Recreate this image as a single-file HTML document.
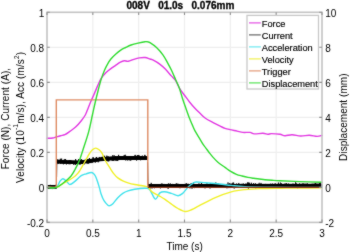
<!DOCTYPE html>
<html><head><meta charset="utf-8"><title>plot</title>
<style>html,body{margin:0;padding:0;background:#fff;width:350px;height:252px;overflow:hidden}svg{display:block}</style>
</head><body>
<svg width="350" height="252" viewBox="0 0 350 252">
<defs><filter id="soft" x="0" y="0" width="350" height="252" filterUnits="userSpaceOnUse" color-interpolation-filters="sRGB"><feConvolveMatrix order="3" kernelMatrix="1 2 1 2 24 2 1 2 1" edgeMode="duplicate" preserveAlpha="true"/></filter></defs>
<g filter="url(#soft)">
<rect width="350" height="252" fill="#fff"/>
<g fill="none" stroke="#eeeeee" stroke-width="1.2">
<path d="M92.83 12.30V222.40 M138.67 12.30V222.40 M184.50 12.30V222.40 M230.33 12.30V222.40 M276.17 12.30V222.40 M47.00 47.32H322.00 M47.00 82.33H322.00 M47.00 117.35H322.00 M47.00 152.37H322.00 M47.00 187.38H322.00"/>
</g>
<g fill="none" stroke-linejoin="round" stroke-linecap="round">
<path d="M47.00 138.30C47.95 138.25 51.15 138.23 52.70 138.00C54.25 137.77 54.98 137.28 56.30 136.90C57.62 136.52 59.17 136.07 60.60 135.70C62.03 135.33 63.35 135.42 64.90 134.70C66.45 133.98 68.12 132.67 69.90 131.40C71.68 130.13 73.70 128.88 75.60 127.10C77.50 125.32 79.68 122.72 81.30 120.70C82.92 118.68 84.28 116.78 85.30 115.00C86.32 113.22 86.52 112.17 87.40 110.00C88.28 107.83 89.50 104.60 90.60 102.00C91.70 99.40 92.85 97.05 94.00 94.40C95.15 91.75 96.28 88.80 97.50 86.10C98.72 83.40 99.87 80.47 101.30 78.20C102.73 75.93 104.50 74.10 106.10 72.50C107.70 70.90 109.32 69.78 110.90 68.60C112.48 67.42 114.02 66.47 115.60 65.40C117.18 64.33 118.97 62.97 120.40 62.20C121.83 61.43 122.88 60.95 124.20 60.80C125.52 60.65 126.68 61.55 128.30 61.30C129.92 61.05 132.05 59.87 133.90 59.30C135.75 58.73 137.55 58.20 139.40 57.90C141.25 57.60 143.23 57.32 145.00 57.50C146.77 57.68 148.62 58.55 150.00 59.00C151.38 59.45 151.68 59.35 153.30 60.20C154.92 61.05 157.70 62.63 159.70 64.10C161.70 65.57 163.37 67.03 165.30 69.00C167.23 70.97 169.57 73.95 171.30 75.90C173.03 77.85 174.30 78.58 175.70 80.70C177.10 82.82 178.20 86.13 179.70 88.60C181.20 91.07 183.03 93.23 184.70 95.50C186.37 97.77 188.03 100.12 189.70 102.20C191.37 104.28 193.03 106.20 194.70 108.00C196.37 109.80 197.92 111.28 199.70 113.00C201.48 114.72 203.08 116.67 205.40 118.30C207.72 119.93 211.05 121.45 213.60 122.80C216.15 124.15 218.80 125.48 220.70 126.40C222.60 127.32 223.45 127.77 225.00 128.30C226.55 128.83 227.98 129.13 230.00 129.60C232.02 130.07 234.95 130.63 237.10 131.10C239.25 131.57 240.75 132.18 242.90 132.40C245.05 132.62 248.10 132.15 250.00 132.40C251.90 132.65 252.15 133.75 254.30 133.90C256.45 134.05 260.63 133.23 262.90 133.30C265.17 133.37 266.48 134.25 267.90 134.30C269.32 134.35 269.38 133.60 271.40 133.60C273.42 133.60 277.73 133.95 280.00 134.30C282.27 134.65 282.98 135.63 285.00 135.70C287.02 135.77 289.48 134.65 292.10 134.70C294.72 134.75 297.83 135.90 300.70 136.00C303.57 136.10 306.57 135.23 309.30 135.30C312.03 135.37 314.98 136.38 317.10 136.40C319.22 136.42 321.18 135.57 322.00 135.40" stroke="#e238e2" stroke-width="1.4"/>
<path d="M47.00 187.00 L56.40 187.00" stroke="#000" stroke-width="4.0" stroke-linecap="butt"/>
<path d="M56.90 161.70 L80.00 162.40 L90.00 160.90 L100.00 159.40 L110.00 158.50 L120.00 158.00 L135.00 157.90 L147.50 158.10" stroke="#000" stroke-width="3.8" stroke-linejoin="round" stroke-linecap="butt"/>
<path d="M148.10 185.70 L200.00 185.50 L322.00 185.40" stroke="#000" stroke-width="3.2" stroke-linecap="butt"/>
<path d="M56.60 176.72 56.80 165.53 57.00 162.45 57.20 161.62 57.40 159.52 57.60 162.96 57.80 162.73 58.00 163.15 58.20 163.90 58.40 162.29 58.60 161.93 58.80 159.81 59.00 162.69 59.20 160.85 59.40 161.10 59.60 159.88 59.80 160.34 60.00 161.00 60.20 163.73 60.40 158.76 60.60 159.63 60.80 162.18 61.00 163.99 61.20 162.70 61.40 158.99 61.60 158.64 61.80 162.38 62.00 160.75 62.20 160.18 62.40 163.33 62.60 163.53 62.80 162.11 63.00 162.25 63.20 162.54 63.40 164.29 63.60 162.83 63.80 162.69 64.00 162.74 64.20 159.57 64.40 163.85 64.60 163.37 64.80 162.73 65.00 158.98 65.20 161.00 65.40 163.22 65.60 159.25 65.80 161.69 66.00 163.51 66.20 160.02 66.40 164.40 66.60 162.82 66.80 161.77 67.00 162.49 67.20 162.99 67.40 162.20 67.60 163.74 67.80 161.04 68.00 161.41 68.20 163.60 68.40 162.09 68.60 160.73 68.80 163.48 69.00 164.26 69.20 161.41 69.40 160.01 69.60 161.88 69.80 161.87 70.00 161.65 70.20 164.21 70.40 160.57 70.60 164.01 70.80 160.22 71.00 160.95 71.20 163.08 71.40 163.83 71.60 163.43 71.80 162.67 72.00 162.37 72.20 162.39 72.40 163.03 72.60 161.91 72.80 162.60 73.00 163.05 73.20 162.20 73.40 163.35 73.60 163.05 73.80 164.81 74.00 162.71 74.20 161.58 74.40 161.67 74.60 162.22 74.80 163.63 75.00 161.74 75.20 162.83 75.40 164.86 75.60 159.07 75.80 160.59 76.00 162.64 76.20 162.88 76.40 162.65 76.60 161.65 76.80 163.29 77.00 162.73 77.20 161.53 77.40 164.92 77.60 162.86 77.80 161.50 78.00 162.19 78.20 162.01 78.40 162.26 78.60 159.16 78.80 161.63 79.00 163.88 79.20 160.62 79.40 162.28 79.60 163.82 79.80 163.68 80.00 164.64 80.20 159.82 80.40 161.81 80.60 161.80 80.80 163.21 81.00 163.89 81.20 159.02 81.40 163.82 81.60 159.99 81.80 163.15 82.00 159.86 82.20 162.33 82.40 163.83 82.60 161.79 82.80 162.27 83.00 163.15 83.20 162.13 83.40 161.76 83.60 164.16 83.80 163.40 84.00 161.36 84.20 164.37 84.40 160.02 84.60 163.08 84.80 161.28 85.00 161.85 85.20 162.68 85.40 161.92 85.60 162.52 85.80 159.24 86.00 159.24 86.20 162.39 86.40 160.00 86.60 159.87 86.80 159.17 87.00 163.25 87.20 162.44 87.40 163.50 87.60 159.85 87.80 161.23 88.00 159.49 88.20 162.32 88.40 163.52 88.60 159.77 88.80 163.42 89.00 162.53 89.20 160.75 89.40 158.03 89.60 163.07 89.80 160.79 90.00 160.00 90.20 161.47 90.40 161.45 90.60 163.06 90.80 159.25 91.00 162.45 91.20 162.95 91.40 162.87 91.60 160.39 91.80 159.51 92.00 162.13 92.20 160.74 92.40 160.73 92.60 162.65 92.80 160.08 93.00 157.25 93.20 159.84 93.40 157.61 93.60 161.59 93.80 160.81 94.00 159.38 94.20 160.26 94.40 161.49 94.60 160.33 94.80 162.17 95.00 160.06 95.20 161.68 95.40 162.33 95.60 162.47 95.80 159.02 96.00 161.32 96.20 157.16 96.40 158.31 96.60 156.97 96.80 161.48 97.00 158.00 97.20 159.80 97.40 159.50 97.60 159.72 97.80 158.84 98.00 160.05 98.20 162.27 98.40 159.71 98.60 160.41 98.80 161.08 99.00 159.25 99.20 157.63 99.40 158.66 99.60 161.07 99.80 156.96 100.00 158.50 100.20 160.89 100.40 160.55 100.60 159.36 100.80 160.54 101.00 159.56 101.20 157.52 101.40 156.93 101.60 158.30 101.80 160.62 102.00 158.37 102.20 157.85 102.40 158.03 102.60 156.87 102.80 158.97 103.00 157.36 103.20 159.66 103.40 155.89 103.60 159.57 103.80 158.10 104.00 156.13 104.20 160.11 104.40 158.59 104.60 155.79 104.80 157.66 105.00 159.39 105.20 158.24 105.40 160.08 105.60 160.02 105.80 159.88 106.00 159.35 106.20 160.84 106.40 159.81 106.60 159.48 106.80 155.66 107.00 160.11 107.20 160.72 107.40 158.29 107.60 158.01 107.80 161.30 108.00 156.04 108.20 159.37 108.40 161.24 108.60 157.23 108.80 159.64 109.00 161.19 109.20 158.39 109.40 159.40 109.60 159.89 109.80 157.16 110.00 158.37 110.20 158.93 110.40 159.72 110.60 158.42 110.80 158.17 111.00 156.93 111.20 157.90 111.40 159.77 111.60 158.57 111.80 157.13 112.00 157.14 112.20 160.99 112.40 160.09 112.60 159.33 112.80 155.16 113.00 159.28 113.20 159.06 113.40 160.86 113.60 158.96 113.80 158.21 114.00 159.08 114.20 155.37 114.40 159.83 114.60 158.76 114.80 157.21 115.00 160.24 115.20 160.84 115.40 156.13 115.60 157.22 115.80 158.65 116.00 158.48 116.20 157.59 116.40 156.72 116.60 160.77 116.80 159.72 117.00 156.36 117.20 156.12 117.40 160.68 117.60 159.60 117.80 160.71 118.00 159.32 118.20 156.78 118.40 158.47 118.60 154.87 118.80 156.94 119.00 157.96 119.20 158.82 119.40 156.94 119.60 157.83 119.80 158.70 120.00 158.57 120.20 158.96 120.40 158.31 120.60 157.51 120.80 159.18 121.00 158.07 121.20 156.75 121.40 157.05 121.60 157.99 121.80 157.82 122.00 158.22 122.20 157.98 122.40 158.25 122.60 157.78 122.80 156.09 123.00 158.61 123.20 159.56 123.40 158.63 123.60 157.69 123.80 158.64 124.00 156.52 124.20 155.13 124.40 158.06 124.60 156.57 124.80 159.08 125.00 156.34 125.20 154.77 125.40 156.40 125.60 160.33 125.80 157.39 126.00 155.91 126.20 156.81 126.40 158.74 126.60 158.70 126.80 158.22 127.00 160.18 127.20 159.01 127.40 157.92 127.60 158.84 127.80 160.43 128.00 159.40 128.20 159.48 128.40 156.32 128.60 157.72 128.80 159.04 129.00 157.50 129.20 159.54 129.40 158.83 129.60 159.30 129.80 157.62 130.00 160.53 130.20 159.79 130.40 157.61 130.60 158.07 130.80 160.53 131.00 157.41 131.20 159.24 131.40 159.39 131.60 157.93 131.80 156.17 132.00 158.20 132.20 158.46 132.40 159.61 132.60 159.09 132.80 157.95 133.00 159.19 133.20 158.72 133.40 158.22 133.60 157.99 133.80 157.54 134.00 158.94 134.20 156.32 134.40 156.96 134.60 157.91 134.80 155.71 135.00 157.25 135.20 154.89 135.40 156.88 135.60 158.76 135.80 158.76 136.00 157.83 136.20 157.57 136.40 155.80 136.60 160.53 136.80 158.70 137.00 159.57 137.20 156.61 137.40 157.66 137.60 155.21 137.80 159.12 138.00 159.35 138.20 155.11 138.40 157.88 138.60 158.90 138.80 155.32 139.00 155.23 139.20 156.37 139.40 157.03 139.60 155.87 139.80 158.02 140.00 158.35 140.20 158.93 140.40 159.04 140.60 160.24 140.80 159.74 141.00 156.03 141.20 157.24 141.40 156.41 141.60 156.39 141.80 157.89 142.00 158.02 142.20 158.75 142.40 155.64 142.60 156.17 142.80 157.99 143.00 157.73 143.20 157.56 143.40 157.94 143.60 156.90 143.80 159.09 144.00 158.58 144.20 157.92 144.40 157.04 144.60 157.79 144.80 154.86 145.00 156.59 145.20 158.12 145.40 155.81 145.60 158.37 145.80 158.29 146.00 156.01 146.20 157.70 146.40 157.61 146.60 158.78 146.80 159.01 147.00 158.04 147.20 156.82 147.40 157.88" stroke="#000" stroke-width="0.8" stroke-linejoin="miter"/>
<path d="M47.00 186.69 47.20 187.61 47.40 186.73 47.60 186.62 47.80 185.88 48.00 186.74 48.20 188.33 48.40 187.51 48.60 188.24 48.80 187.30 49.00 187.47 49.20 187.22 49.40 185.00 49.60 188.03 49.80 187.61 50.00 187.60 50.20 184.97 50.40 184.91 50.60 185.93 50.80 186.44 51.00 187.37 51.20 186.94 51.40 187.63 51.60 186.23 51.80 187.37 52.00 187.47 52.20 186.21 52.40 189.06 52.60 187.67 52.80 188.44 53.00 186.26 53.20 186.11 53.40 186.59 53.60 186.87 53.80 187.76 54.00 187.30 54.20 186.46 54.40 185.85 54.60 186.38 54.80 188.47 55.00 186.03 55.20 187.29 55.40 187.51 55.60 185.21 55.80 187.06 56.00 188.57 56.20 184.58 56.40 186.61 M147.60 162.62 147.80 172.78 148.00 181.45 148.20 184.83 148.40 184.07 148.60 185.25 148.80 184.81 149.00 184.36 149.20 185.56 149.40 185.11 149.60 185.82 149.80 186.32 150.00 185.20 150.20 188.48 150.40 185.31 150.60 187.01 150.80 185.84 151.00 187.03 151.20 182.84 151.40 184.79 151.60 185.98 151.80 186.41 152.00 188.49 152.20 186.07 152.40 187.22 152.60 186.60 152.80 186.82 153.00 186.29 153.20 185.49 153.40 186.29 153.60 184.39 153.80 187.10 154.00 184.46 154.20 185.98 154.40 188.22 154.60 185.41 154.80 185.70 155.00 187.07 155.20 185.70 155.40 184.70 155.60 185.98 155.80 186.37 156.00 186.52 156.20 184.74 156.40 187.77 156.60 187.67 156.80 185.69 157.00 185.99 157.20 185.15 157.40 187.36 157.60 184.82 157.80 186.47 158.00 185.09 158.20 184.83 158.40 186.52 158.60 187.26 158.80 185.65 159.00 184.85 159.20 186.63 159.40 185.60 159.60 186.03 159.80 187.48 160.00 187.01 160.20 185.03 160.40 188.39 160.60 185.66 160.80 186.59 161.00 184.87 161.20 185.60 161.40 183.55 161.60 187.79 161.80 187.29 162.00 184.19 162.20 183.84 162.40 183.70 162.60 187.06 162.80 185.09 163.00 185.57 163.20 185.27 163.40 185.50 163.60 184.33 163.80 185.67 164.00 183.91 164.20 185.55 164.40 186.01 164.60 186.20 164.80 185.36 165.00 184.55 165.20 185.83 165.40 185.05 165.60 187.51 165.80 186.55 166.00 185.49 166.20 185.06 166.40 184.79 166.60 184.50 166.80 185.20 167.00 185.98 167.20 186.25 167.40 186.31 167.60 188.14 167.80 184.78 168.00 185.64 168.20 188.82 168.40 183.38 168.60 185.00 168.80 185.82 169.00 185.80 169.20 186.11 169.40 185.33 169.60 186.06 169.80 185.68 170.00 186.54 170.20 183.34 170.40 184.55 170.60 185.61 170.80 184.37 171.00 184.36 171.20 186.36 171.40 184.83 171.60 186.37 171.80 186.50 172.00 185.98 172.20 186.22 172.40 185.48 172.60 183.91 172.80 185.57 173.00 186.15 173.20 184.97 173.40 185.48 173.60 186.50 173.80 184.55 174.00 186.37 174.20 187.83 174.40 184.93 174.60 185.77 174.80 185.42 175.00 187.44 175.20 185.98 175.40 186.67 175.60 184.77 175.80 185.57 176.00 185.58 176.20 183.46 176.40 187.32 176.60 186.67 176.80 183.49 177.00 186.48 177.20 185.43 177.40 186.13 177.60 186.03 177.80 183.79 178.00 185.33 178.20 187.38 178.40 184.89 178.60 184.36 178.80 183.95 179.00 184.12 179.20 185.98 179.40 187.61 179.60 186.09 179.80 185.87 180.00 188.26 180.20 184.95 180.40 184.77 180.60 186.21 180.80 186.23 181.00 184.36 181.20 184.17 181.40 185.92 181.60 185.87 181.80 184.00 182.00 185.33 182.20 184.92 182.40 186.12 182.60 185.43 182.80 185.46 183.00 185.14 183.20 186.83 183.40 187.23 183.60 185.12 183.80 186.58 184.00 184.65 184.20 185.65 184.40 186.46 184.60 187.38 184.80 185.10 185.00 185.47 185.20 185.79 185.40 183.76 185.60 185.57 185.80 184.74 186.00 186.00 186.20 184.20 186.40 183.18 186.60 185.60 186.80 185.86 187.00 184.89 187.20 186.62 187.40 185.22 187.60 184.82 187.80 186.12 188.00 183.66 188.20 184.73 188.40 185.52 188.60 186.56 188.80 185.35 189.00 185.91 189.20 184.76 189.40 185.90 189.60 187.54 189.80 184.72 190.00 188.38 190.20 184.77 190.40 185.56 190.60 185.74 190.80 186.76 191.00 184.05 191.20 183.01 191.40 186.26 191.60 186.49 191.80 186.28 192.00 188.69 192.20 185.78 192.40 185.83 192.60 186.64 192.80 185.97 193.00 187.52 193.20 184.04 193.40 185.07 193.60 182.32 193.80 186.50 194.00 185.08 194.20 186.63 194.40 188.11 194.60 185.51 194.80 185.21 195.00 184.92 195.20 184.51 195.40 184.76 195.60 186.28 195.80 185.56 196.00 185.59 196.20 185.31 196.40 186.61 196.60 186.11 196.80 185.34 197.00 186.31 197.20 185.33 197.40 184.13 197.60 187.26 197.80 186.07 198.00 184.36 198.20 186.80 198.40 185.92 198.60 183.63 198.80 187.44 199.00 185.90 199.20 186.57 199.40 185.74 199.60 185.32 199.80 183.64 200.00 186.67 200.20 185.54 200.40 185.16 200.60 185.92 200.80 185.59 201.00 186.31 201.20 185.05 201.40 185.46 201.60 182.93 201.80 184.99 202.00 186.31 202.20 187.10 202.40 185.06 202.60 185.35 202.80 187.40 203.00 185.11 203.20 186.38 203.40 187.51 203.60 185.54 203.80 186.97 204.00 184.64 204.20 185.75 204.40 185.40 204.60 185.63 204.80 186.85 205.00 188.36 205.20 184.70 205.40 184.81 205.60 186.09 205.80 184.23 206.00 186.09 206.20 186.18 206.40 185.16 206.60 186.13 206.80 183.64 207.00 186.41 207.20 183.64 207.40 184.66 207.60 184.83 207.80 185.01 208.00 186.52 208.20 185.59 208.40 185.02 208.60 186.15 208.80 187.39 209.00 185.50 209.20 185.93 209.40 186.98 209.60 185.81 209.80 183.95 210.00 188.48 210.20 188.14 210.40 183.11 210.60 185.44 210.80 185.99 211.00 186.65 211.20 186.29 211.40 185.16 211.60 184.23 211.80 185.61 212.00 186.73 212.20 184.18 212.40 184.26 212.60 185.46 212.80 183.16 213.00 185.18 213.20 184.97 213.40 186.03 213.60 184.65 213.80 184.43 214.00 185.02 214.20 185.43 214.40 184.69 214.60 185.50 214.80 186.39 215.00 186.91 215.20 187.53 215.40 184.55 215.60 184.98 215.80 182.51 216.00 187.77 216.20 184.62 216.40 185.45 216.60 186.11 216.80 183.86 217.00 186.04 217.20 185.45 217.40 183.29 217.60 185.84 217.80 186.92 218.00 183.24 218.20 186.45 218.40 185.74 218.60 186.05 218.80 186.01 219.00 187.05 219.20 185.22 219.40 186.53 219.60 184.99 219.80 186.36 220.00 184.51 220.20 185.35 220.40 187.56 220.60 186.02 220.80 185.29 221.00 184.11 221.20 184.53 221.40 185.71 221.60 186.61 221.80 185.99 222.00 186.11 222.20 185.43 222.40 187.10 222.60 185.01 222.80 184.82 223.00 186.55 223.20 185.56 223.40 185.15 223.60 184.79 223.80 185.17 224.00 186.23 224.20 185.90 224.40 184.03 224.60 185.99 224.80 185.69 225.00 184.28 225.20 186.41 225.40 185.14 225.60 185.08 225.80 186.43 226.00 187.06 226.20 184.65 226.40 186.00 226.60 184.43 226.80 188.26 227.00 184.89 227.20 186.91 227.40 184.70 227.60 186.45 227.80 188.14 228.00 182.43 228.20 184.96 228.40 186.08 228.60 185.37 228.80 184.67 229.00 188.06 229.20 185.57 229.40 183.50 229.60 186.50 229.80 183.41 230.00 186.86 230.20 184.78 230.40 185.65 230.60 186.99 230.80 185.62 231.00 183.81 231.20 183.44 231.40 186.89 231.60 186.36 231.80 184.50 232.00 186.51 232.20 186.07 232.40 186.25 232.60 182.76 232.80 185.11 233.00 186.55 233.20 186.35 233.40 186.53 233.60 182.52 233.80 185.68 234.00 186.06 234.20 188.53 234.40 184.33 234.60 185.08 234.80 185.51 235.00 186.53 235.20 184.94 235.40 186.85 235.60 184.53 235.80 185.79 236.00 184.84 236.20 185.66 236.40 184.64 236.60 183.55 236.80 186.78 237.00 185.83 237.20 184.80 237.40 185.71 237.60 186.66 237.80 184.30 238.00 185.34 238.20 186.12 238.40 186.10 238.60 185.07 238.80 182.94 239.00 186.96 239.20 185.86 239.40 185.48 239.60 185.13 239.80 185.78 240.00 184.96 240.20 184.24 240.40 184.58 240.60 184.75 240.80 184.73 241.00 184.08 241.20 186.23 241.40 183.89 241.60 186.26 241.80 184.25 242.00 185.89 242.20 187.11 242.40 185.71 242.60 184.59 242.80 185.52 243.00 185.64 243.20 183.38 243.40 184.74 243.60 185.66 243.80 184.90 244.00 185.56 244.20 186.34 244.40 186.38 244.60 186.55 244.80 186.17 245.00 185.12 245.20 185.44 245.40 185.14 245.60 185.09 245.80 185.25 246.00 183.39 246.20 185.06 246.40 185.43 246.60 184.29 246.80 185.43 247.00 186.08 247.20 185.26 247.40 187.95 247.60 182.33 247.80 185.21 248.00 183.27 248.20 186.64 248.40 188.65 248.60 182.46 248.80 185.61 249.00 186.08 249.20 185.10 249.40 186.12 249.60 182.77 249.80 186.48 250.00 185.91 250.20 185.49 250.40 184.75 250.60 186.22 250.80 184.88 251.00 185.73 251.20 184.85 251.40 182.76 251.60 185.42 251.80 185.70 252.00 186.36 252.20 184.41 252.40 185.42 252.60 186.20 252.80 185.63 253.00 186.95 253.20 187.85 253.40 184.37 253.60 183.15 253.80 186.48 254.00 187.29 254.20 186.56 254.40 186.43 254.60 184.71 254.80 184.60 255.00 186.52 255.20 184.36 255.40 183.28 255.60 184.26 255.80 188.44 256.00 187.76 256.20 184.63 256.40 184.58 256.60 185.73 256.80 184.55 257.00 187.03 257.20 185.36 257.40 184.15 257.60 187.02 257.80 184.75 258.00 185.72 258.20 185.44 258.40 185.07 258.60 185.84 258.80 184.62 259.00 183.24 259.20 182.80 259.40 183.93 259.60 184.54 259.80 185.42 260.00 185.52 260.20 186.12 260.40 185.59 260.60 184.50 260.80 184.60 261.00 182.91 261.20 185.25 261.40 186.03 261.60 186.09 261.80 185.30 262.00 185.24 262.20 186.57 262.40 185.47 262.60 186.33 262.80 186.15 263.00 185.70 263.20 187.02 263.40 184.76 263.60 185.02 263.80 184.48 264.00 184.49 264.20 187.31 264.40 187.56 264.60 185.47 264.80 186.13 265.00 186.86 265.20 186.42 265.40 186.89 265.60 183.93 265.80 184.68 266.00 185.99 266.20 187.17 266.40 185.57 266.60 184.42 266.80 185.02 267.00 184.65 267.20 184.41 267.40 187.25 267.60 184.69 267.80 185.47 268.00 188.04 268.20 186.87 268.40 185.85 268.60 184.71 268.80 185.94 269.00 187.39 269.20 186.19 269.40 186.96 269.60 185.56 269.80 186.06 270.00 185.20 270.20 185.95 270.40 187.00 270.60 183.72 270.80 185.37 271.00 185.73 271.20 184.76 271.40 185.07 271.60 186.39 271.80 187.84 272.00 186.20 272.20 185.83 272.40 183.58 272.60 187.75 272.80 185.53 273.00 185.40 273.20 184.10 273.40 185.37 273.60 184.12 273.80 185.52 274.00 186.00 274.20 185.48 274.40 185.77 274.60 184.42 274.80 187.15 275.00 184.65 275.20 183.26 275.40 185.21 275.60 184.52 275.80 184.23 276.00 185.01 276.20 185.79 276.40 184.02 276.60 185.27 276.80 187.15 277.00 186.26 277.20 185.25 277.40 185.59 277.60 185.29 277.80 185.38 278.00 186.31 278.20 185.32 278.40 182.55 278.60 185.41 278.80 184.37 279.00 186.22 279.20 184.70 279.40 185.61 279.60 188.05 279.80 184.18 280.00 184.08 280.20 183.74 280.40 182.56 280.60 183.18 280.80 185.87 281.00 184.67 281.20 183.19 281.40 183.65 281.60 186.17 281.80 184.50 282.00 184.99 282.20 185.83 282.40 187.06 282.60 187.76 282.80 186.67 283.00 185.60 283.20 185.65 283.40 187.59 283.60 187.15 283.80 185.06 284.00 185.98 284.20 185.78 284.40 185.49 284.60 184.83 284.80 183.84 285.00 184.79 285.20 183.58 285.40 186.90 285.60 186.07 285.80 183.98 286.00 187.10 286.20 186.50 286.40 183.14 286.60 187.64 286.80 186.40 287.00 187.91 287.20 183.95 287.40 186.07 287.60 185.94 287.80 185.67 288.00 185.63 288.20 186.69 288.40 183.63 288.60 183.94 288.80 183.75 289.00 184.76 289.20 184.70 289.40 185.87 289.60 185.75 289.80 185.46 290.00 184.61 290.20 184.90 290.40 186.57 290.60 186.34 290.80 185.55 291.00 185.04 291.20 187.29 291.40 184.71 291.60 186.20 291.80 186.81 292.00 185.11 292.20 186.41 292.40 184.09 292.60 186.64 292.80 185.66 293.00 183.52 293.20 186.23 293.40 184.35 293.60 186.96 293.80 184.61 294.00 185.23 294.20 185.76 294.40 185.02 294.60 185.73 294.80 184.76 295.00 186.23 295.20 185.43 295.40 185.68 295.60 182.22 295.80 186.82 296.00 185.46 296.20 183.28 296.40 185.54 296.60 185.98 296.80 186.71 297.00 184.12 297.20 187.28 297.40 185.23 297.60 188.29 297.80 185.24 298.00 186.24 298.20 184.98 298.40 184.08 298.60 186.74 298.80 186.51 299.00 187.27 299.20 186.45 299.40 184.73 299.60 183.42 299.80 184.64 300.00 184.61 300.20 184.44 300.40 186.12 300.60 185.81 300.80 185.09 301.00 185.62 301.20 185.24 301.40 185.67 301.60 186.32 301.80 186.57 302.00 184.59 302.20 183.61 302.40 187.13 302.60 185.55 302.80 186.74 303.00 183.44 303.20 185.02 303.40 185.45 303.60 183.69 303.80 184.80 304.00 186.28 304.20 186.71 304.40 187.33 304.60 184.38 304.80 183.73 305.00 186.04 305.20 186.54 305.40 185.65 305.60 183.85 305.80 186.35 306.00 186.36 306.20 186.08 306.40 184.83 306.60 185.78 306.80 186.36 307.00 184.74 307.20 183.20 307.40 185.81 307.60 185.99 307.80 185.43 308.00 186.48 308.20 184.71 308.40 185.31 308.60 185.04 308.80 186.10 309.00 187.33 309.20 185.11 309.40 187.88 309.60 187.24 309.80 186.36 310.00 186.11 310.20 187.53 310.40 185.19 310.60 185.27 310.80 184.13 311.00 185.98 311.20 187.02 311.40 186.05 311.60 185.92 311.80 185.17 312.00 185.61 312.20 183.70 312.40 186.67 312.60 184.92 312.80 184.08 313.00 184.51 313.20 184.42 313.40 186.43 313.60 186.68 313.80 183.78 314.00 186.52 314.20 186.47 314.40 184.71 314.60 183.62 314.80 184.51 315.00 184.65 315.20 185.82 315.40 184.98 315.60 182.97 315.80 185.69 316.00 183.56 316.20 186.49 316.40 183.96 316.60 184.57 316.80 184.38 317.00 184.75 317.20 186.96 317.40 186.43 317.60 186.13 317.80 185.79 318.00 183.55 318.20 184.78 318.40 184.74 318.60 184.23 318.80 186.01 319.00 184.51 319.20 184.55 319.40 184.15 319.60 182.93 319.80 186.12 320.00 187.00 320.20 185.61 320.40 184.23 320.60 182.20 320.80 185.61 321.00 186.86 321.20 185.76 321.40 186.51 321.60 187.17 321.80 186.75 322.00 184.87" stroke="#000" stroke-width="0.7" stroke-linejoin="miter"/>
<path d="M47.00 187.40C48.53 187.40 54.07 188.38 56.20 187.40C58.33 186.42 58.68 182.93 59.80 181.50C60.92 180.07 61.78 178.85 62.90 178.80C64.02 178.75 65.35 180.25 66.50 181.20C67.65 182.15 68.40 184.47 69.80 184.50C71.20 184.53 73.00 182.87 74.90 181.40C76.80 179.93 79.32 176.97 81.20 175.70C83.08 174.43 84.53 174.33 86.20 173.80C87.87 173.27 89.95 172.50 91.20 172.50C92.45 172.50 92.97 173.13 93.70 173.80C94.43 174.47 94.97 175.23 95.60 176.50C96.23 177.77 96.87 179.55 97.50 181.40C98.13 183.25 98.82 185.55 99.40 187.60C99.98 189.65 100.23 191.52 101.00 193.70C101.77 195.88 102.85 198.78 104.00 200.70C105.15 202.62 106.92 204.38 107.90 205.20C108.88 206.02 109.07 205.85 109.90 205.60C110.73 205.35 111.58 205.02 112.90 203.70C114.22 202.38 116.15 199.43 117.80 197.70C119.45 195.97 121.10 194.45 122.80 193.30C124.50 192.15 126.02 191.48 128.00 190.80C129.98 190.12 131.87 189.62 134.70 189.20C137.53 188.78 142.52 188.27 145.00 188.30C147.48 188.33 147.88 187.60 149.60 189.40C151.32 191.20 153.58 198.52 155.30 199.10C157.02 199.68 158.38 194.13 159.90 192.90C161.42 191.67 162.50 191.62 164.40 191.70C166.30 191.78 169.02 192.73 171.30 193.40C173.58 194.07 176.20 195.70 178.10 195.70C180.00 195.70 181.07 194.80 182.70 193.40C184.33 192.00 186.37 188.87 187.90 187.30C189.43 185.73 190.53 184.88 191.90 184.00C193.27 183.12 193.82 182.20 196.10 182.00C198.38 181.80 201.73 182.47 205.60 182.80C209.47 183.13 215.02 183.57 219.30 184.00C223.58 184.43 227.02 184.97 231.30 185.40C235.58 185.83 238.55 186.30 245.00 186.60C251.45 186.90 257.17 187.07 270.00 187.20C282.83 187.33 313.33 187.37 322.00 187.40" stroke="#40e2ec" stroke-width="1.4"/>
<path d="M47.00 187.40C48.53 187.40 53.55 188.03 56.20 187.40C58.85 186.77 60.83 184.77 62.90 183.60C64.97 182.43 66.60 181.63 68.60 180.40C70.60 179.17 73.25 177.52 74.90 176.20C76.55 174.88 77.62 173.53 78.50 172.50C79.38 171.47 79.17 171.75 80.20 170.00C81.23 168.25 83.22 164.63 84.70 162.00C86.18 159.37 87.82 156.23 89.10 154.20C90.38 152.17 91.28 150.82 92.40 149.80C93.52 148.78 94.68 148.10 95.80 148.10C96.92 148.10 98.07 148.97 99.10 149.80C100.13 150.63 101.02 151.40 102.00 153.10C102.98 154.80 103.68 157.53 105.00 160.00C106.32 162.47 108.42 165.58 109.90 167.90C111.38 170.22 112.58 172.23 113.90 173.90C115.22 175.57 116.32 176.75 117.80 177.90C119.28 179.05 121.10 179.98 122.80 180.80C124.50 181.62 126.02 182.18 128.00 182.80C129.98 183.42 132.53 184.05 134.70 184.50C136.87 184.95 139.28 185.22 141.00 185.50C142.72 185.78 143.77 185.88 145.00 186.20C146.23 186.52 147.25 186.48 148.40 187.40C149.55 188.32 150.18 190.33 151.90 191.70C153.62 193.07 156.52 194.33 158.70 195.60C160.88 196.87 162.78 197.82 165.00 199.30C167.22 200.78 169.83 202.97 172.00 204.50C174.17 206.03 175.73 207.33 178.00 208.50C180.27 209.67 183.27 211.33 185.60 211.50C187.93 211.67 189.72 210.48 192.00 209.50C194.28 208.52 195.42 207.58 199.30 205.60C203.18 203.62 209.97 199.88 215.30 197.60C220.63 195.32 226.35 193.23 231.30 191.90C236.25 190.57 240.22 190.15 245.00 189.60C249.78 189.05 254.17 188.83 260.00 188.60C265.83 188.37 273.33 188.30 280.00 188.20C286.67 188.10 293.00 188.05 300.00 188.00C307.00 187.95 318.33 187.92 322.00 187.90" stroke="#f0f028" stroke-width="1.4"/>
<path d="M47.00 187.30 L56.30 187.30 L56.30 99.90 L147.80 99.90 L147.80 187.30" stroke="#de8c64" stroke-width="1.4" stroke-linejoin="miter" stroke-linecap="butt"/>
<path d="M147.80 187.30 L322.00 187.30" stroke="#8a3418" stroke-width="1.3" stroke-linecap="butt"/>
<path d="M47.00 187.40C48.53 187.40 53.55 188.08 56.20 187.40C58.85 186.72 60.45 185.17 62.90 183.30C65.35 181.43 68.83 178.58 70.90 176.20C72.97 173.82 73.92 171.52 75.30 169.00C76.68 166.48 77.93 164.27 79.20 161.10C80.47 157.93 81.35 154.78 82.90 150.00C84.45 145.22 86.92 138.23 88.50 132.40C90.08 126.57 91.27 120.07 92.40 115.00C93.53 109.93 94.33 106.13 95.30 102.00C96.27 97.87 97.20 94.05 98.20 90.20C99.20 86.35 100.25 82.23 101.30 78.90C102.35 75.57 103.43 72.72 104.50 70.20C105.57 67.68 106.63 65.67 107.70 63.80C108.77 61.93 109.58 60.58 110.90 59.00C112.22 57.42 114.02 55.75 115.60 54.30C117.18 52.85 118.73 51.43 120.40 50.30C122.07 49.17 123.82 48.38 125.60 47.50C127.38 46.62 129.02 45.73 131.10 45.00C133.18 44.27 135.78 43.65 138.10 43.10C140.42 42.55 143.38 41.90 145.00 41.70C146.62 41.50 146.97 41.75 147.80 41.90C148.63 42.05 148.55 41.67 150.00 42.60C151.45 43.53 154.35 45.47 156.50 47.50C158.65 49.53 161.05 52.25 162.90 54.80C164.75 57.35 166.15 60.18 167.60 62.80C169.05 65.42 170.23 67.63 171.60 70.50C172.97 73.37 174.52 77.08 175.80 80.00C177.08 82.92 178.18 84.92 179.30 88.00C180.42 91.08 181.45 95.25 182.50 98.50C183.55 101.75 184.43 104.20 185.60 107.50C186.77 110.80 188.40 115.45 189.50 118.30C190.60 121.15 191.28 122.52 192.20 124.60C193.12 126.68 193.83 128.60 195.00 130.80C196.17 133.00 197.82 135.48 199.20 137.80C200.58 140.12 202.22 143.03 203.30 144.70C204.38 146.37 204.70 146.47 205.70 147.80C206.70 149.13 208.10 151.15 209.30 152.70C210.50 154.25 211.42 155.47 212.90 157.10C214.38 158.73 216.18 160.78 218.20 162.50C220.22 164.22 222.92 165.92 225.00 167.40C227.08 168.88 228.80 170.25 230.70 171.40C232.60 172.55 234.50 173.53 236.40 174.30C238.30 175.07 240.18 175.48 242.10 176.00C244.02 176.52 245.98 177.02 247.90 177.40C249.82 177.78 251.70 178.03 253.60 178.30C255.50 178.57 257.40 178.77 259.30 179.00C261.20 179.23 262.88 179.48 265.00 179.70C267.12 179.92 269.50 180.12 272.00 180.30C274.50 180.48 275.33 180.58 280.00 180.80C284.67 181.02 293.00 181.35 300.00 181.60C307.00 181.85 318.33 182.18 322.00 182.30" stroke="#30dc30" stroke-width="1.4"/>
</g>
<g fill="none" stroke="#c4c4c4" stroke-width="1.6">
<rect x="47.0" y="12.3" width="275.0" height="210.1"/>
<path d="M47.00 222.40v-2.8M47.00 12.30v2.8 M92.83 222.40v-2.8M92.83 12.30v2.8 M138.67 222.40v-2.8M138.67 12.30v2.8 M184.50 222.40v-2.8M184.50 12.30v2.8 M230.33 222.40v-2.8M230.33 12.30v2.8 M276.17 222.40v-2.8M276.17 12.30v2.8 M322.00 222.40v-2.8M322.00 12.30v2.8 M47.00 222.40h2.8M322.00 222.40h-2.8 M47.00 187.38h2.8M322.00 187.38h-2.8 M47.00 152.37h2.8M322.00 152.37h-2.8 M47.00 117.35h2.8M322.00 117.35h-2.8 M47.00 82.33h2.8M322.00 82.33h-2.8 M47.00 47.32h2.8M322.00 47.32h-2.8 M47.00 12.30h2.8M322.00 12.30h-2.8" stroke-width="1.1" stroke="#909090"/>
</g>
<g font-family="'Liberation Sans', Arial, Helvetica, sans-serif" font-size="10" fill="#000000" stroke="#000000" stroke-width="0">
<text x="47.00" y="237.1" text-anchor="middle">0</text><text x="92.83" y="237.1" text-anchor="middle">0.5</text><text x="138.67" y="237.1" text-anchor="middle">1</text><text x="184.50" y="237.1" text-anchor="middle">1.5</text><text x="230.33" y="237.1" text-anchor="middle">2</text><text x="276.17" y="237.1" text-anchor="middle">2.5</text><text x="322.00" y="237.1" text-anchor="middle">3</text>
<text x="44.2" y="227.30" text-anchor="end">-0.2</text><text x="44.2" y="192.28" text-anchor="end">0</text><text x="44.2" y="157.27" text-anchor="end">0.2</text><text x="44.2" y="122.25" text-anchor="end">0.4</text><text x="44.2" y="87.23" text-anchor="end">0.6</text><text x="44.2" y="52.22" text-anchor="end">0.8</text><text x="44.2" y="17.20" text-anchor="end">1</text>
<text x="325.2" y="227.30">-2</text><text x="325.2" y="192.28">0</text><text x="325.2" y="157.27">2</text><text x="325.2" y="122.25">4</text><text x="325.2" y="87.23">6</text><text x="325.2" y="52.22">8</text><text x="325.2" y="17.20">10</text>
<text x="184.6" y="250.1" text-anchor="middle">Time (s)</text>
<text transform="translate(8.6,118.6) rotate(-90)" text-anchor="middle" textLength="101.4" lengthAdjust="spacing">Force (N), Current (A),</text>
<text transform="translate(23.6,117.5) rotate(-90)" text-anchor="middle" textLength="131.0" lengthAdjust="spacing">Velocity (10<tspan font-size="6.8" dy="-5.2">-1</tspan><tspan dy="5.2">m/s), Acc (m/s</tspan><tspan font-size="6.5" dy="-4.4">2</tspan><tspan dy="4.4">)</tspan></text>
<text transform="translate(347.4,117.2) rotate(-90)" text-anchor="middle" textLength="87.4" lengthAdjust="spacing">Displacement (mm)</text>
<text x="180.4" y="8.7" text-anchor="middle" font-weight="bold" stroke-width="0.3" xml:space="preserve" style="white-space:pre">008V   01.0s   0.076mm</text>
</g>
<g font-family="'Liberation Sans', Arial, Helvetica, sans-serif" font-size="9.25" fill="#000000" stroke="#000000" stroke-width="0.15">
<rect x="247" y="15.4" width="71.5" height="73.6" fill="#fff" stroke="#c8c8c8" stroke-width="1.3"/><path d="M249 22.90H260.8" stroke="#e03ee0" stroke-width="1.1"/><text x="261.8" y="26.70">Force</text><path d="M249 34.90H260.8" stroke="#555555" stroke-width="1.1"/><text x="261.8" y="38.70">Current</text><path d="M249 46.90H260.8" stroke="#5ee6ee" stroke-width="1.1"/><text x="261.8" y="50.70">Acceleration</text><path d="M249 58.90H260.8" stroke="#f0f040" stroke-width="1.1"/><text x="261.8" y="62.70">Velocity</text><path d="M249 70.90H260.8" stroke="#e0906a" stroke-width="1.1"/><text x="261.8" y="74.70">Trigger</text><path d="M249 82.90H260.8" stroke="#44e044" stroke-width="1.1"/><text x="261.8" y="86.70">Displacement</text>
</g>
</g>
</svg>
</body></html>
